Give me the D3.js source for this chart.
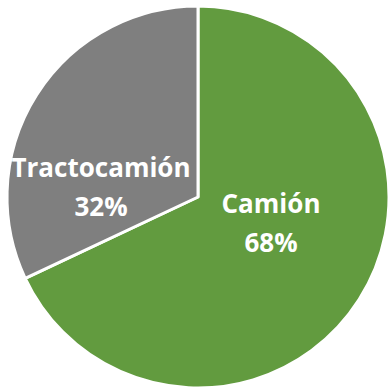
<!DOCTYPE html>
<html>
<head>
<meta charset="utf-8">
<script src="https://cdn.jsdelivr.net/npm/d3@7"></script>
<style>
  html, body { margin: 0; padding: 0; background: #fff; }
  svg { display: block; }
</style>
</head>
<body>
<svg id="chart" width="390" height="387"></svg>
<script>
// Vehicle type share
const categories = ["Camión", "Tractocamión"];
const shares = [68, 32];
const colors = ["#629B3F", "#7F7F7F"];

const width = 390, height = 387;
const cx = 198, cy = 197, radius = 191;

const svg = d3.select("#chart");
const g = svg.append("g").attr("transform", `translate(${cx},${cy})`);

const pie = d3.pie().sort(null).value(d => d.value);
const arcs = pie(categories.map((c, i) => ({ name: c, value: shares[i], color: colors[i] })));

const arc = d3.arc().innerRadius(0).outerRadius(radius);

g.selectAll("path.slice")
  .data(arcs)
  .join("path")
  .attr("class", "slice")
  .attr("d", arc)
  .attr("fill", d => d.data.color)
  .attr("stroke", "#fff")
  .attr("stroke-width", 3)
  .attr("stroke-linejoin", "round");

// Label anchor (first-line baseline) relative to the pie centre
const labelAnchor = [[73, 16], [-97, -20]];
const lineGap = 39;

const labels = g.selectAll("text.label")
  .data(arcs)
  .join("text")
  .attr("class", "label")
  .attr("text-anchor", "middle")
  .attr("fill", "#fff")
  .attr("font-family", "'Open Sans', 'Liberation Sans', sans-serif")
  .attr("font-weight", "bold")
  .attr("font-size", 26)
  .attr("transform", (d, i) => `translate(${labelAnchor[i][0]},${labelAnchor[i][1]})`);

labels.append("tspan").attr("x", 0).attr("y", 0).text(d => d.data.name);
labels.append("tspan").attr("x", 0).attr("y", lineGap).text(d => d.data.value + "%");
</script>
</body>
</html>
